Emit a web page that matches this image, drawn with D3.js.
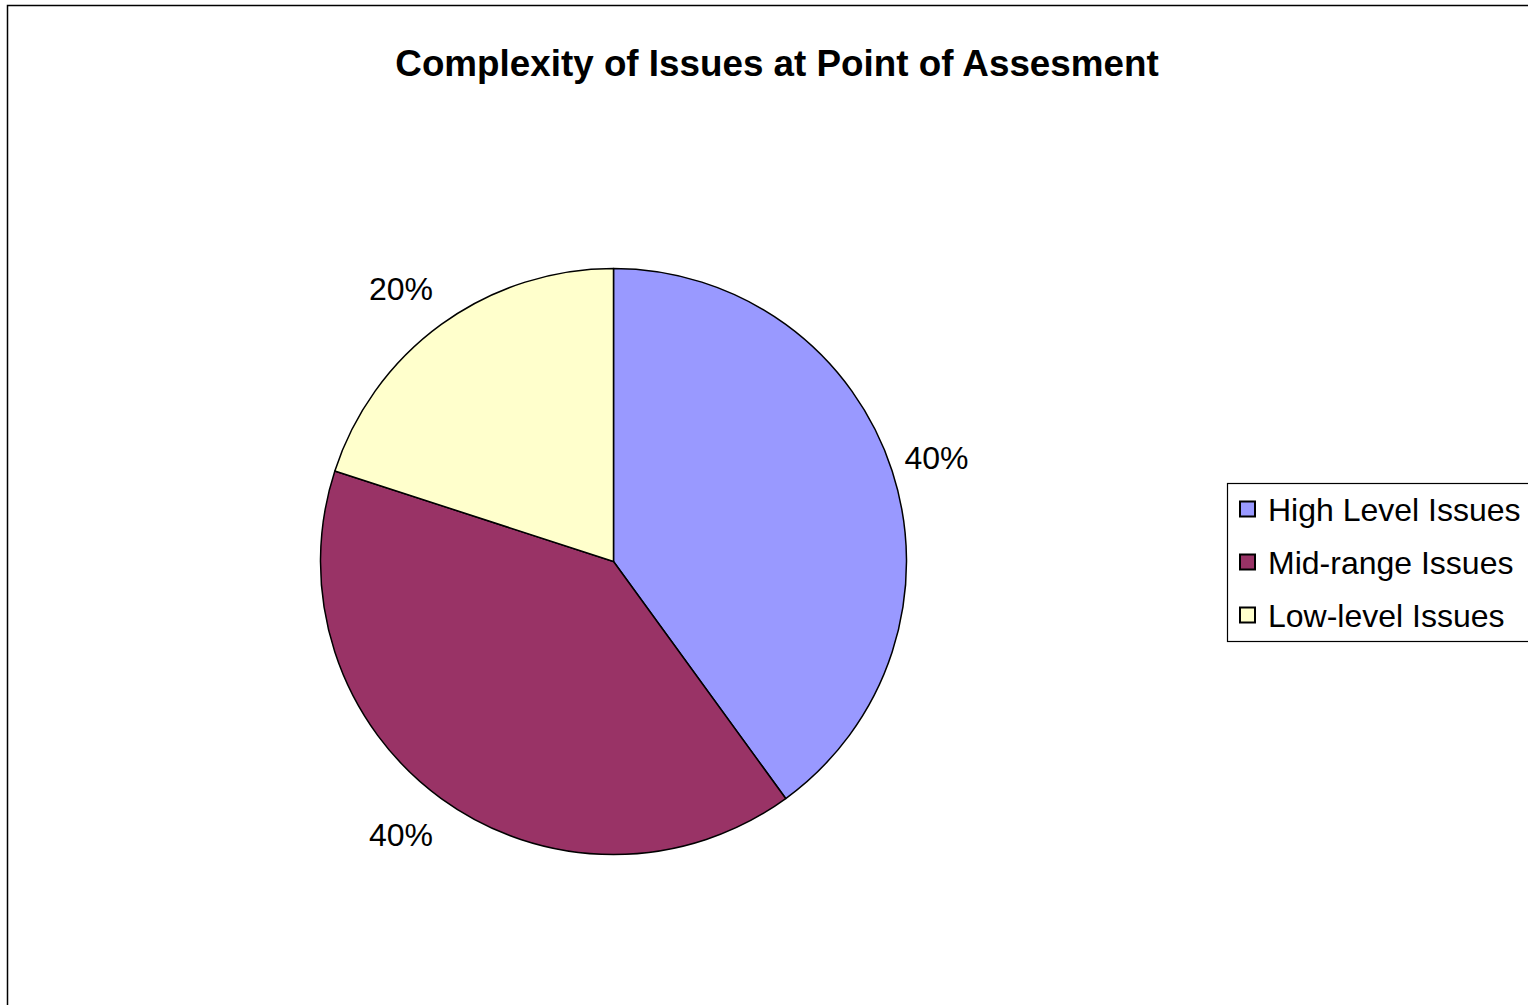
<!DOCTYPE html>
<html>
<head>
<meta charset="utf-8">
<script src="https://cdn.jsdelivr.net/npm/d3@7/dist/d3.min.js"></script>
<style>
  body { margin: 0; background: #fff; }
  svg { display: block; font-family: "Liberation Sans", Arial, sans-serif; }
</style>
</head>
<body>
<svg id="chart"></svg>
<script>
// 数据
const categories = ["High Level Issues", "Mid-range Issues", "Low-level Issues"];
const values = [40, 40, 20];
const colors = ["#9999FF", "#993366", "#FFFFCC"];
const title = "Complexity of Issues at Point of Assesment";

function drawPie() {
    let width = 1528;
    let height = 1005;

    let svg = d3.select("#chart")
        .attr("width", width)
        .attr("height", height);

    // 外框
    svg.append("rect")
        .attr("x", 7.5)
        .attr("y", 5.5)
        .attr("width", width + 20)
        .attr("height", height + 20)
        .attr("fill", "none")
        .attr("stroke", "#000")
        .attr("stroke-width", 1.5);

    // 标题
    svg.append("text")
        .attr("x", 777)
        .attr("y", 76)
        .attr("text-anchor", "middle")
        .attr("font-size", 36.8)
        .attr("font-weight", "bold")
        .text(title);

    let cx = 613.5, cy = 561.5, r = 293;
    let total = d3.sum(values);

    let color = d3.scaleOrdinal().domain(categories).range(colors);

    let pie = d3.pie()
        .sort(null)
        .value(d => d.value);

    let arc = d3.arc().innerRadius(0).outerRadius(r);

    let data = categories.map((c, i) => ({name: c, value: values[i]}));

    let g = svg.append("g")
        .attr("transform", "translate(" + cx + "," + cy + ")");

    g.selectAll("path")
        .data(pie(data))
        .enter()
        .append("path")
        .attr("d", arc)
        .attr("fill", d => color(d.data.name))
        .attr("stroke", "#000")
        .attr("stroke-width", 1.5)
        .attr("stroke-linejoin", "round");

    // 标签位置（椭圆半径，略向左偏）
    let rx = 348, ry = 338, shiftX = -8;
    function labelPos(d) {
        let a = (d.startAngle + d.endAngle) / 2;
        return [shiftX + rx * Math.sin(a), -ry * Math.cos(a)];
    }

    g.selectAll("text")
        .data(pie(data))
        .enter()
        .append("text")
        .attr("transform", d => "translate(" + labelPos(d) + ")")
        .attr("text-anchor", "middle")
        .attr("dy", "0.36em")
        .attr("font-size", 32)
        .text(d => Math.round(d.data.value / total * 100) + "%");

    // 图例
    let legend = svg.append("g");
    legend.append("rect")
        .attr("x", 1227.5)
        .attr("y", 483.5)
        .attr("width", 330)
        .attr("height", 158)
        .attr("fill", "#fff")
        .attr("stroke", "#000")
        .attr("stroke-width", 1.2);

    let rowY = d3.scalePoint().domain(categories).range([509, 615]);

    let items = legend.selectAll("g.item")
        .data(categories)
        .enter()
        .append("g")
        .attr("class", "item")
        .attr("transform", d => "translate(0," + rowY(d) + ")");

    items.append("rect")
        .attr("x", 1240)
        .attr("y", -7.5)
        .attr("width", 15)
        .attr("height", 15)
        .attr("fill", d => color(d))
        .attr("stroke", "#000")
        .attr("stroke-width", 2);

    items.append("text")
        .attr("x", 1268)
        .attr("dy", "0.36em")
        .attr("font-size", 32)
        .text(d => d);
}

drawPie();
</script>
</body>
</html>
